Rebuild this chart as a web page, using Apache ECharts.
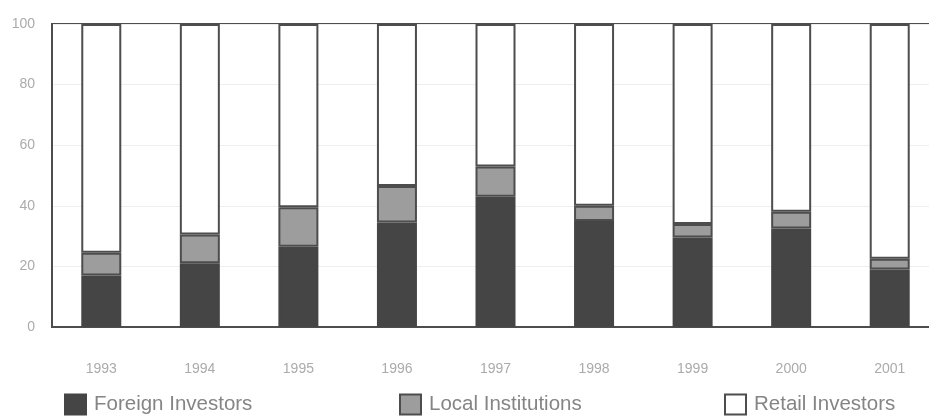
<!DOCTYPE html>
<html>
<head>
<meta charset="utf-8">
<script src="https://cdn.jsdelivr.net/npm/echarts@6/dist/echarts.min.js"></script>
<style>
  html, body { margin: 0; padding: 0; background: #fff; }
  #chart { width: 929px; height: 416px; }
</style>
</head>
<body>
<div id="chart"></div>
<script>
// Ownership of listed shares by investor group, percent of total
const years = ['1993', '1994', '1995', '1996', '1997', '1998', '1999', '2000', '2001'];
const foreignInvestors = [17, 21, 26.5, 34.5, 43, 35, 29.5, 32.5, 19];
const localInstitutions = [7.5, 9.5, 13, 12, 10, 5, 4.5, 5.5, 3.5];
const retailInvestors = years.map((_, i) => 100 - foreignInvestors[i] - localInstitutions[i]);
const yTicks = [0, 20, 40, 60, 80, 100];

const FONT = "'Liberation Sans', Arial, Helvetica, sans-serif";
const EDGE = '#4d4d4d';

const chart = echarts.init(document.getElementById('chart'), null, { renderer: 'canvas' });

function barSeries(name, data, fill, border) {
  return {
    name: name,
    type: 'bar',
    stack: 'share',
    barWidth: 40,
    data: data,
    itemStyle: { color: fill, borderColor: border, borderWidth: 2 },
    emphasis: { disabled: true }
  };
}

function legendAt(left, name) {
  return {
    left: left,
    top: 392,
    padding: 0,
    data: [name],
    icon: 'rect',
    itemWidth: 21,
    itemHeight: 20,
    itemGap: 0,
    textStyle: { fontFamily: FONT, fontSize: 20.5, lineHeight: 22, color: '#858585', padding: [3, 0, 0, 3] },
    selectedMode: false
  };
}

chart.setOption({
  animation: false,
  backgroundColor: '#fff',
  grid: {
    left: 52, top: 24, height: 303, width: 887,
    outerBoundsMode: 'none',
    containLabel: false,
    show: true, borderColor: EDGE, borderWidth: 2, backgroundColor: 'transparent'
  },
  legend: [
    legendAt(64, 'Foreign Investors'),
    legendAt(399, 'Local Institutions'),
    legendAt(724, 'Retail Investors')
  ],
  xAxis: {
    type: 'category',
    data: years,
    axisLine: { lineStyle: { color: EDGE, width: 2 } },
    axisTick: { show: false },
    axisLabel: { margin: 35, color: '#ababab', fontFamily: FONT, fontSize: 14 }
  },
  yAxis: {
    type: 'value',
    min: yTicks[0],
    max: yTicks[yTicks.length - 1],
    interval: 20,
    axisLine: { show: true, lineStyle: { color: EDGE, width: 2 } },
    axisTick: { show: false },
    splitLine: { lineStyle: { color: '#eeeeee', width: 1 } },
    axisLabel: { margin: 17, color: '#ababab', fontFamily: FONT, fontSize: 14 }
  },
  series: [
    barSeries('Foreign Investors', foreignInvestors, '#454545', '#454545'),
    barSeries('Local Institutions', localInstitutions, '#9d9d9d', EDGE),
    barSeries('Retail Investors', retailInvestors, '#ffffff', EDGE)
  ]
});
</script>
</body>
</html>
